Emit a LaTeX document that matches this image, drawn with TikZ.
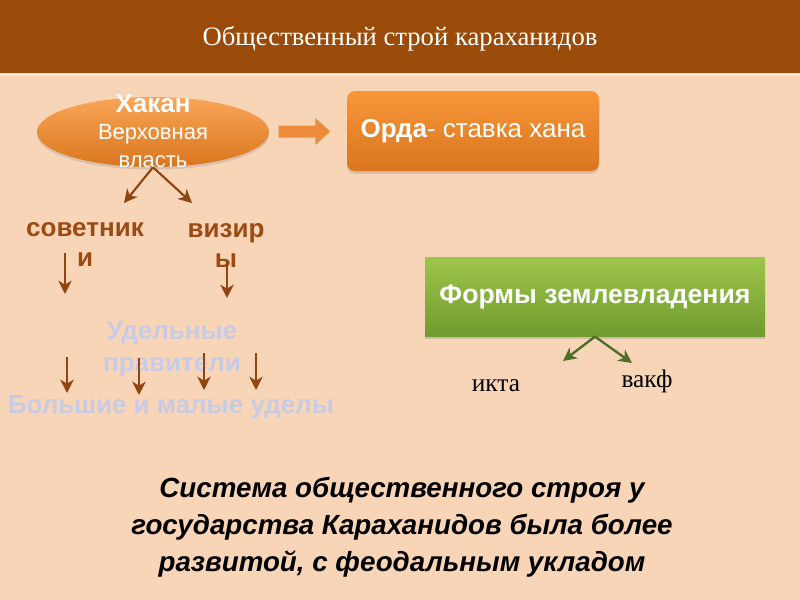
\documentclass[tikz,border=0pt]{standalone}
\usepackage{fontspec}
\setmainfont{Liberation Serif}
\setsansfont{Liberation Sans}
\usetikzlibrary{shapes.geometric,shadows,arrows.meta}
\definecolor{peach}{HTML}{F9D5B8}
\definecolor{headbrown}{HTML}{9A4A09}
\definecolor{headline}{HTML}{FBE2CC}
\definecolor{textbrown}{HTML}{9C4A14}
\definecolor{arrbrown}{HTML}{8E4512}
\definecolor{lavender}{HTML}{C7CBE6}
\definecolor{orangetop}{HTML}{F8963A}
\definecolor{orangebot}{HTML}{D9761E}
\definecolor{greentop}{HTML}{9DC54B}
\definecolor{greenbot}{HTML}{709C2F}
\definecolor{arrgreen}{HTML}{4F6E28}
\definecolor{bigarrcol}{HTML}{EC8C3A}

\tikzset{
  brownarr/.style={draw=arrbrown, line width=1.6pt, -{Stealth[length=10pt,width=10pt,inset=3pt]}},
  greenarr/.style={draw=arrgreen, line width=1.8pt, -{Stealth[length=10pt,width=10pt,inset=3pt]}},
  orangebox/.style={rectangle, rounded corners=6pt, top color=orangetop, bottom color=orangebot,
    drop shadow={opacity=0.3, shadow xshift=0pt, shadow yshift=-2pt}, text=white},
}

\begin{document}
\begin{tikzpicture}[x=0.75pt,y=0.75pt,yscale=-1,xscale=1]
\useasboundingbox (0,0) rectangle (800,600);
%Background and header
\fill[peach] (0,0) rectangle (800,600);
\fill[headbrown] (0,0) rectangle (800,73);
\fill[headline] (0,73) rectangle (800,76);
\draw (400,39) node [inner sep=0.75pt, text=white, font=\fontsize{20}{24}\selectfont] (title) {Общественный строй караханидов};
%Khagan
\draw (153,132) node [ellipse, inner sep=0pt, minimum width=174pt, minimum height=52.5pt, top color=orangetop!85!white, bottom color=orangebot, drop shadow={opacity=0.25, shadow xshift=0pt, shadow yshift=-2pt}] (hakan) {};
\draw (153,131) node [inner sep=0.75pt, align=center, text=white, font=\sffamily\fontsize{16.5}{20.5}\selectfont] (hakantxt) {{\fontsize{19.5}{20.5}\selectfont\bfseries Хакан}\\Верховная\\власть};
\draw (473,131) node [orangebox, minimum width=189pt, minimum height=60pt, font=\sffamily\fontsize{19.5}{22}\selectfont] (orda) {{\bfseries Орда}- ставка хана};
\draw [bigarrcol, line width=9pt, shorten <=7pt, shorten >=12.5pt, -{Triangle[width=19.5pt,length=11pt]}] (hakan) -- (orda);
%Advisers and viziers
\draw (85,245) node [inner sep=0.75pt, align=center, text=textbrown, font=\sffamily\bfseries\fontsize{19.5}{22.5}\selectfont] (sovet) {советник\\и};
\draw (226,245) node [inner sep=0.75pt, align=center, text=textbrown, font=\sffamily\bfseries\fontsize{19.5}{22.5}\selectfont] (vizir) {визир\\ы};
\coordinate (sovtip) at (124,203);
\coordinate (viztip) at (192,203);
\draw [brownarr] (hakan.south) -- (sovtip);
\draw [brownarr] (hakan.south) -- (viztip);
\coordinate (s1) at (65,253);
\coordinate (s2) at (65,294);
\coordinate (v1) at (227,262);
\coordinate (v2) at (227,298);
\draw [brownarr] (s1) -- (s2);
\draw [brownarr] (v1) -- (v2);
%Appanage rulers
\draw (172,349) node [inner sep=0.75pt, align=center, text=lavender, font=\sffamily\bfseries\fontsize{19.5}{24}\selectfont] (udel) {Удельные\\правители};
\draw (171,407) node [inner sep=0.75pt, text=lavender, font=\sffamily\bfseries\fontsize{19.5}{22}\selectfont] (udely) {Большие и малые уделы};
\foreach \x/\ya/\yb [count=\i] in {67/357/393, 139/358/395, 204/353/390, 256/353/390} {
  \coordinate (ua\i) at (\x,\ya);
  \coordinate (ub\i) at (\x,\yb);
  \draw [brownarr] (ua\i) -- (ub\i);
}
%Land ownership
\draw (595,297) node [rectangle, minimum width=255pt, minimum height=59pt, top color=greentop, bottom color=greenbot, text=white, drop shadow={opacity=0.3, shadow xshift=0pt, shadow yshift=-2pt}, font=\sffamily\bfseries\fontsize{20}{22}\selectfont] (zemlya) {Формы землевладения};
\coordinate (iktatip) at (563,361);
\coordinate (vakftip) at (632,363);
\draw [greenarr] (zemlya.south) -- (iktatip);
\draw [greenarr] (zemlya.south) -- (vakftip);
\draw (496,386) node [inner sep=0.75pt, font=\fontsize{19}{22}\selectfont] (ikta) {икта};
\draw (647,381) node [inner sep=0.75pt, font=\fontsize{19}{22}\selectfont] (vakf) {вакф};
%Conclusion
\draw (402,527) node [inner sep=0.75pt, align=center, font=\sffamily\bfseries\itshape\fontsize{20.8}{27.75}\selectfont] (itog) {Система общественного строя у\\государства Караханидов была более\\развитой, с феодальным укладом};
\end{tikzpicture}
\end{document}
